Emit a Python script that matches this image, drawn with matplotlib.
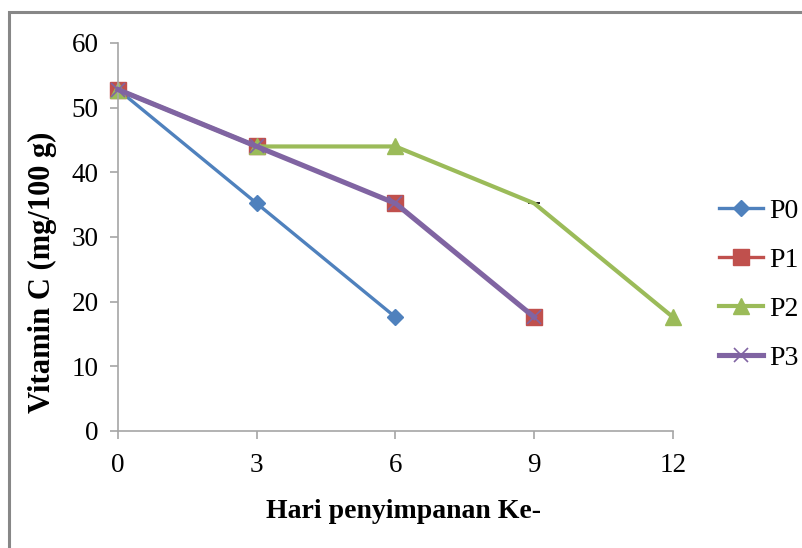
import matplotlib
matplotlib.use("Agg")
import matplotlib.pyplot as plt
from matplotlib.patches import Rectangle

# storage day and vitamin C content per treatment
days = [0, 3, 6, 9, 12]
p0 = [52.8, 35.2, 17.6]
p1 = [52.8, 44.0, 35.2, 17.6]
p2 = [52.8, 44.0, 44.0, 35.2, 17.6]
p3 = [52.8, 44.0, 35.2, 17.6]
labels = ["P0", "P1", "P2", "P3"]

yticks = [0, 10, 20, 30, 40, 50, 60]

plt.rcParams['font.family'] = ['Liberation Serif', 'DejaVu Serif']

fig = plt.figure(figsize=(8.03, 5.48), dpi=100)
ax = fig.add_axes([118/803, 1 - 431/548, (673 - 118)/803, (431 - 43)/548])

# outer frame of the chart area
fig.patches.append(Rectangle((9/803, -0.05), 1.1, 1 - 12/548 + 0.05,
                             transform=fig.transFigure, fill=False,
                             edgecolor='#878787', linewidth=2.2))

# small black mark under the green line at day 9
ax.plot(days[3], p2[3], marker='_', color='black', ms=8, mew=1.2,
        linestyle='none', zorder=1, clip_on=False)

ax.plot(days[:len(p0)], p0, color='#4F81BD', lw=2.4, marker='D', ms=8,
        label=labels[0], clip_on=False, zorder=2)
ax.plot(days[:len(p1)], p1, color='#C0504D', lw=2.4, marker='s', ms=11,
        label=labels[1], clip_on=False, zorder=2)
ax.plot(days[:len(p2)], p2, color='#9BBB59', lw=3.0, marker='^', ms=12,
        markevery=[0, 1, 2, 4], label=labels[2], clip_on=False, zorder=2)
ax.plot(days[:len(p3)], p3, color='#8064A2', lw=3.7, marker='x', ms=10,
        mew=1.2, label=labels[3], clip_on=False, zorder=3)

ax.set_xlim(0, 12)
ax.set_ylim(0, 60)
ax.set_xticks(days)
ax.set_xticklabels([str(d) for d in days])
ax.set_yticks(yticks)

for s in ['top', 'right']:
    ax.spines[s].set_visible(False)
for s in ['left', 'bottom']:
    ax.spines[s].set_color('#A6A6A6')
    ax.spines[s].set_linewidth(1.2)
ax.tick_params(axis='both', colors='#A6A6A6', labelcolor='black',
               labelsize=19.5, length=6, width=1.2, direction='out')
ax.tick_params(axis='y', pad=8)
ax.tick_params(axis='x', pad=10)

ax.set_xlabel("Hari penyimpanan Ke-", fontsize=20, fontweight='bold')
ax.set_ylabel("Vitamin C (mg/100 g)", fontsize=22, fontweight='bold')
ax.xaxis.set_label_coords(0.515, -0.175)
ax.yaxis.set_label_coords(-0.11, 0.41)

fig.legend(loc='center left', bbox_to_anchor=(719/803, 1 - 284.5/548),
           frameon=False, fontsize=20, handlelength=1.6, handletextpad=0.2,
           labelspacing=0.85, borderpad=0, borderaxespad=0)

fig.savefig("out.png", dpi=100)
